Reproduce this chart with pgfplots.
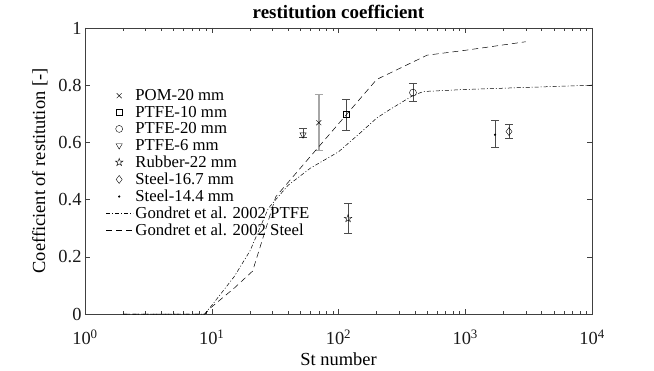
\documentclass[border=0pt]{standalone}
\usepackage{fontspec}
\setmainfont{Liberation Serif}
\usepackage{pgfplots}
\pgfplotsset{compat=1.18}
\usetikzlibrary{plotmarks}
\pgfdeclareplotmark{pentagram}{%
  \pgfpathmoveto{\pgfqpointpolar{90}{\pgfplotmarksize}}%
  \pgfpathlineto{\pgfqpointpolar{126}{0.382\pgfplotmarksize}}%
  \pgfpathlineto{\pgfqpointpolar{162}{\pgfplotmarksize}}%
  \pgfpathlineto{\pgfqpointpolar{198}{0.382\pgfplotmarksize}}%
  \pgfpathlineto{\pgfqpointpolar{234}{\pgfplotmarksize}}%
  \pgfpathlineto{\pgfqpointpolar{270}{0.382\pgfplotmarksize}}%
  \pgfpathlineto{\pgfqpointpolar{306}{\pgfplotmarksize}}%
  \pgfpathlineto{\pgfqpointpolar{342}{0.382\pgfplotmarksize}}%
  \pgfpathlineto{\pgfqpointpolar{18}{\pgfplotmarksize}}%
  \pgfpathlineto{\pgfqpointpolar{54}{0.382\pgfplotmarksize}}%
  \pgfpathclose\pgfusepathqstroke}
\pgfplotsset{
  markleg/.style={legend image code/.code={\draw[##1] plot coordinates {(13bp,0bp)};}},
  lineleg/.style={legend image code/.code={\draw[##1] (0bp,0bp) -- (27bp,0bp);}},
}
\begin{document}
\begin{tikzpicture}
\useasboundingbox (-85bp,-57bp) rectangle (569bp,314bp);
\begin{axis}[scale only axis, width=507bp, height=286bp,
  xmode=log, xmin=1, xmax=10000, ymin=0, ymax=1,
  xtick={1,10,100,1000,10000},
  xticklabels={10\textsuperscript{0},10\textsuperscript{1},10\textsuperscript{2},10\textsuperscript{3},10\textsuperscript{4}},
  ytick={0,0.2,0.4,0.6,0.8,1},
  /pgf/number format/assume math mode=true,
  tick align=inside,
  axis line style={black!75}, every tick/.style={black!75},
  major tick length=5bp, minor tick length=3bp,
  tick label style={font=\fontsize{18.5}{20}\selectfont, black!90},
  xticklabel style={yshift=-12bp},
  label style={font=\fontsize{18.5}{20}\selectfont},
  xlabel={St number}, ylabel={Coefficient of restitution [-]},
  xlabel style={yshift=-1bp}, ylabel style={yshift=4bp},
  title={restitution coefficient},
  title style={font=\fontsize{19}{22}\selectfont\bfseries},
  legend style={draw=none, fill=none, at={(0.035,0.80)}, anchor=north west,
    font=\fontsize{16.8}{19.5}\selectfont, row sep=0pt},
  legend cell align=left,
  every axis plot/.append style={black},
  error bars/error bar style={black!70, line width=0.6pt},
  error bars/error mark options={rotate=90, black!70, mark size=4bp, line width=0.6pt},
]
\addplot[only marks, mark=x, mark size=3.5bp, markleg,
  error bars/.cd, y dir=both, y explicit,
  error bar style={gray!70, line width=1.3pt}, error mark options={rotate=90, gray!70, mark size=4bp, line width=1pt}]
  table[y error plus=ep, y error minus=em] {
x y ep em
70 0.669 0.098 0.098
};
\addlegendentry{POM-20 mm}
\addplot[only marks, mark=square, mark size=3bp, markleg,
  error bars/.cd, y dir=both, y explicit]
  table[y error plus=ep, y error minus=em] {
x y ep em
115 0.697 0.052 0.056
};
\addlegendentry{PTFE-10 mm}
\addplot[only marks, mark=o, mark size=3.5bp, markleg,
  error bars/.cd, y dir=both, y explicit]
  table[y error plus=ep, y error minus=em] {
x y ep em
387 0.774 0.031 0.032
};
\addlegendentry{PTFE-20 mm}
\addplot[only marks, mark=triangle, mark size=3.6bp, mark options={rotate=180}, markleg,
  error bars/.cd, y dir=both, y explicit]
  table[y error plus=ep, y error minus=em] {
x y ep em
52.5 0.627 0.021 0.008
};
\addlegendentry{PTFE-6 mm}
\addplot[only marks, mark=pentagram, mark size=4bp, markleg,
  error bars/.cd, y dir=both, y explicit]
  table[y error plus=ep, y error minus=em] {
x y ep em
119 0.334 0.053 0.052
};
\addlegendentry{Rubber-22 mm}
\addplot[only marks, mark=diamond, mark size=4bp, markleg,
  error bars/.cd, y dir=both, y explicit]
  table[y error plus=ep, y error minus=em] {
x y ep em
2213 0.638 0.027 0.025
};
\addlegendentry{Steel-16.7 mm}
\addplot[only marks, mark=*, mark size=0.9bp, markleg,
  error bars/.cd, y dir=both, y explicit]
  table[y error plus=ep, y error minus=em] {
x y ep em
1718 0.627 0.049 0.045
};
\addlegendentry{Steel-14.4 mm}
\addplot[no marks, line width=0.5pt, dash pattern=on 4bp off 2bp on 1bp off 2bp, lineleg]
  coordinates {(2,0) (8.8,0) (10,0.03) (15,0.13) (20,0.22) (28,0.37) (40,0.45)
  (60,0.51) (100,0.567) (150,0.635) (200,0.685) (250,0.713) (390,0.765)
  (470,0.778) (1000,0.785) (10000,0.80)};
\addlegendentry{Gondret et al. 2002 PTFE}
\addplot[no marks, line width=0.5pt, dash pattern=on 6bp off 4bp, lineleg]
  coordinates {(2,0) (8.8,0) (10,0.025) (15,0.09) (21,0.15) (32,0.41) (50,0.51)
  (100,0.665) (200,0.82) (500,0.905) (1000,0.922) (2240,0.944) (3000,0.952)};
\addlegendentry{Gondret et al. 2002 Steel}
\end{axis}
\end{tikzpicture}
\end{document}
